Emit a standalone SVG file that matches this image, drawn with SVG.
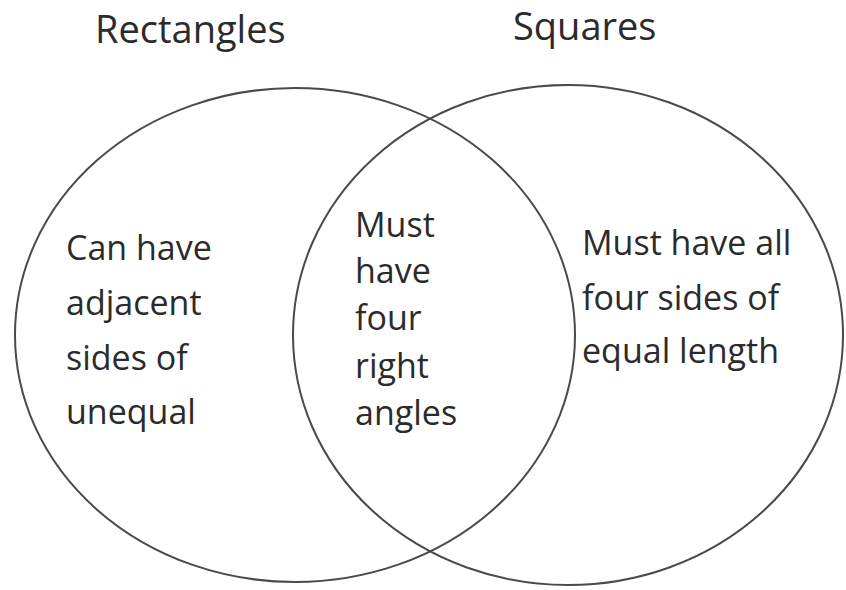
<svg xmlns="http://www.w3.org/2000/svg" width="846" height="590" viewBox="0 0 846 590">
<style>
.c{fill:none;stroke:#4a4a4a;stroke-width:2}
.t{font-family:"Open Sans","Liberation Sans",sans-serif;fill:#2b2b2b}
.b{font-size:34px}
.h{font-size:38px}
</style>
<rect width="846" height="590" fill="#fff"/>
<g id="rectangles">
<ellipse class="c" cx="295" cy="335" rx="280" ry="247"/>
<text class="t h" x="95" y="43">Rectangles</text>
<text class="t b" x="66" y="260">Can have</text>
<text class="t b" x="66" y="315">adjacent</text>
<text class="t b" x="66" y="370">sides of</text>
<text class="t b" x="66" y="424">unequal</text>
</g>
<g id="squares">
<ellipse class="c" cx="568" cy="335" rx="275" ry="250"/>
<text class="t h" x="513" y="40">Squares</text>
<text class="t b" x="582" y="255">Must have all</text>
<text class="t b" x="582" y="310">four sides of</text>
<text class="t b" x="582" y="363">equal length</text>
</g>
<g id="both">
<text class="t b" x="355" y="237">Must</text>
<text class="t b" x="355" y="283">have</text>
<text class="t b" x="355" y="330">four</text>
<text class="t b" x="355" y="378">right</text>
<text class="t b" x="355" y="425">angles</text>
</g>
<g id="connectors"></g>
</svg>
